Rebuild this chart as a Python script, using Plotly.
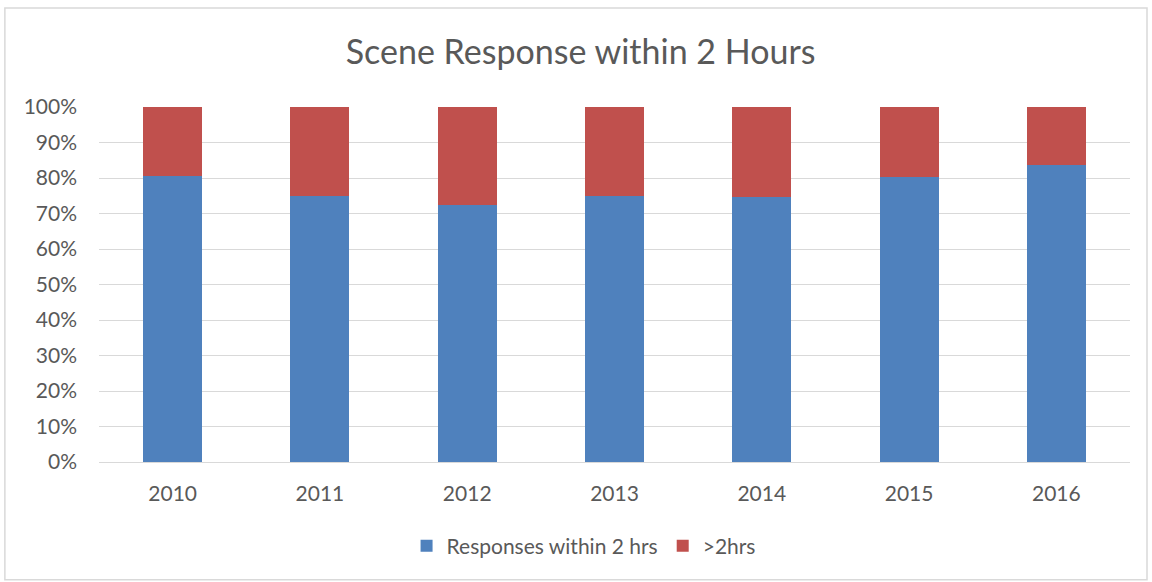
import plotly.graph_objects as go

years = ["2010", "2011", "2012", "2013", "2014", "2015", "2016"]
within_2hrs = [80.6, 74.9, 72.3, 74.9, 74.6, 80.2, 83.6]
over_2hrs = [round(100 - v, 1) for v in within_2hrs]

font_family = "Lato, 'Open Sans', sans-serif"
txt = "#595959"

fig = go.Figure()
fig.add_trace(go.Bar(x=years, y=within_2hrs, name="Responses within 2 hrs",
                     marker=dict(color="#4F81BD", line=dict(width=0))))
fig.add_trace(go.Bar(x=years, y=over_2hrs, name=">2hrs",
                     marker=dict(color="#C0504D", line=dict(width=0))))

fig.update_layout(
    barmode="stack",
    bargap=0.6,
    width=1152, height=582,
    margin=dict(l=99, r=22, t=107, b=120),
    paper_bgcolor="white", plot_bgcolor="white",
    font=dict(family=font_family, color=txt, size=21),
    title=dict(text="Scene Response within 2 Hours", x=0.504, xanchor="center",
               y=1 - 52 / 582, yanchor="middle",
               font=dict(size=34, color=txt, family=font_family)),
    legend=dict(orientation="h", x=0.47, xanchor="center", y=-0.237, yanchor="middle",
                font=dict(size=21, color=txt), itemwidth=30, traceorder="normal"),
    showlegend=True,
    shapes=[dict(type="rect", xref="paper", yref="paper",
                 x0=-0.0913, x1=1.0165, y0=-0.332, y1=1.279,
                 line=dict(color="#d9d9d9", width=1.5), fillcolor="rgba(0,0,0,0)",
                 layer="below")],
)
fig.update_yaxes(range=[0, 100], dtick=10, ticksuffix="%", showgrid=True,
                 gridcolor="#d9d9d9", gridwidth=1, zeroline=False,
                 showline=False, ticks="", ticklabelstandoff=21,
                 tickfont=dict(size=21, color=txt))
fig.update_xaxes(showline=True, linecolor="#d9d9d9", linewidth=1, ticks="",
                 ticklabelstandoff=13, tickfont=dict(size=21, color=txt))

fig.write_html("out.html", config={"displayModeBar": False},
               post_script="document.body.style.margin='0';document.body.style.overflow='hidden';")
